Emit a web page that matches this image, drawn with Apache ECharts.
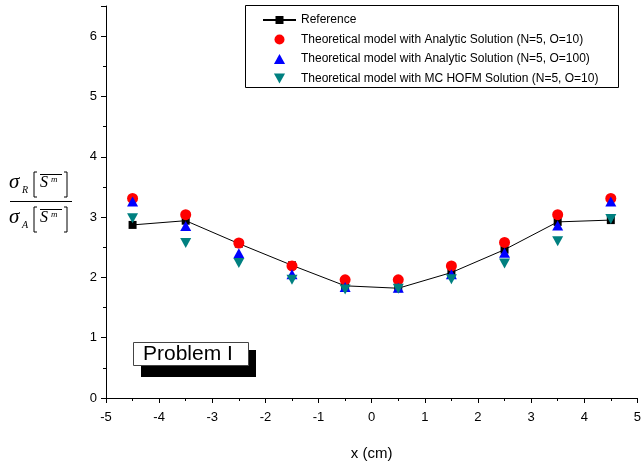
<!DOCTYPE html>
<html>
<head>
<meta charset="utf-8">
<script src="https://cdn.jsdelivr.net/npm/echarts@6/dist/echarts.min.js"></script>
<style>html,body{margin:0;padding:0;background:#fff}#c{width:644px;height:466px}</style>
</head>
<body>
<div id="c"></div>
<script>
var xs = [-4.5, -3.5, -2.5, -1.5, -0.5, 0.5, 1.5, 2.5, 3.5, 4.5];
var refVals   = [2.87, 2.94, 2.56, 2.20, 1.86, 1.82, 2.08, 2.46, 2.92, 2.95];
var anaO10    = [3.31, 3.04, 2.57, 2.19, 1.96, 1.96, 2.19, 2.58, 3.04, 3.31];
var anaO100   = [3.26, 2.85, 2.40, 2.05, 1.84, 1.83, 2.05, 2.41, 2.86, 3.26];
var mcO10     = [2.98, 2.57, 2.24, 1.96, 1.80, 1.81, 1.97, 2.23, 2.60, 2.97];
var seriesNames = [
  'Reference',
  'Theoretical model with Analytic Solution (N=5, O=10)',
  'Theoretical model with Analytic Solution (N=5, O=100)',
  'Theoretical model with MC HOFM Solution (N=5, O=10)'
];
function pairs(v){ return xs.map(function(x,i){ return [x, v[i]]; }); }

var FONT = 'Liberation Sans, Arial, sans-serif';
var SERIF = 'Liberation Serif, Times New Roman, serif';
var upTri = 'path://M5,0 L10,9 L0,9 Z';
var invTri = 'path://M0,0 L10,0 L5,9 Z';

var chart = echarts.init(document.getElementById('c'), null, {renderer: 'canvas'});

function fracPart(dy, sub) {
  var els = [];
  els.push({type:'text', left:9, top:172+dy, style:{text:'σ', font:'italic 21px ' + SERIF, fill:'#000'}});
  els.push({type:'text', left:22, top:185+dy, style:{text:sub, font:'italic 10px ' + SERIF, fill:'#000'}});
  els.push({type:'polyline', shape:{points:[[37,172+dy],[34,172+dy],[34,197+dy],[37,197+dy]]}, style:{stroke:'#000', lineWidth:1, fill:null}});
  els.push({type:'polyline', shape:{points:[[64,172+dy],[67,172+dy],[67,197+dy],[64,197+dy]]}, style:{stroke:'#000', lineWidth:1, fill:null}});
  els.push({type:'text', left:40, top:175+dy, style:{text:'S', font:'italic 16px ' + SERIF, fill:'#000'}});
  els.push({type:'text', left:51, top:175+dy, style:{text:'m', font:'italic 9px ' + SERIF, fill:'#000'}});
  els.push({type:'line', shape:{x1:40, y1:174.5+dy, x2:62, y2:174.5+dy}, style:{stroke:'#000', lineWidth:1}});
  return els;
}

var graphics = [];
graphics = graphics.concat(fracPart(0, 'R'));
graphics = graphics.concat(fracPart(35, 'A'));
graphics.push({type:'line', shape:{x1:10, y1:201.5, x2:72, y2:201.5}, style:{stroke:'#000', lineWidth:1}});
// legend frame
graphics.push({type:'rect', shape:{x:245.5, y:5.5, width:373, height:82}, style:{fill:null, stroke:'#000', lineWidth:1}, z:0});
// Problem I box with shadow
graphics.push({type:'rect', shape:{x:141, y:350, width:115, height:27}, style:{fill:'#000'}, z:10});
graphics.push({type:'rect', shape:{x:133.5, y:342.5, width:115, height:23}, style:{fill:'#fff', stroke:'#444', lineWidth:1}, z:11});
graphics.push({type:'text', left:143, top:344, style:{text:'Problem I', font:'21px ' + FONT, fill:'#000'}, z:12});

var option = {
  animation: false,
  backgroundColor: '#fff',
  grid: {left: 106, right: 3, top: 6, bottom: 62, containLabel: false},
  legend: {
    orient: 'vertical',
    left: 262, top: 14,
    padding: 0,
    itemWidth: 33, itemHeight: 10, itemGap: 7.5,
    textStyle: {fontFamily: FONT, fontSize: 12, color: '#000', padding: [0,0,0,0]},
    data: [
      {name: seriesNames[0]},
      {name: seriesNames[1], icon: 'circle'},
      {name: seriesNames[2], icon: upTri},
      {name: seriesNames[3], icon: invTri}
    ]
  },
  xAxis: {
    type: 'value', min: -5, max: 5, interval: 1,
    name: 'x (cm)', nameLocation: 'middle', nameGap: 48,
    nameTextStyle: {fontFamily: FONT, fontSize: 15, color: '#000'},
    axisLine: {show: true, onZero: false, lineStyle: {color: '#000', width: 1}},
    axisTick: {show: true, inside: false, length: 5, lineStyle: {color: '#000'}},
    minorTick: {show: true, splitNumber: 2, length: 3, lineStyle: {color: '#000'}},
    splitLine: {show: false},
    axisLabel: {fontFamily: FONT, fontSize: 13, color: '#000', margin: 13}
  },
  yAxis: {
    type: 'value', min: 0, max: 6.5, interval: 1,
    axisLine: {show: true, onZero: false, lineStyle: {color: '#000', width: 1}},
    axisTick: {show: true, inside: false, length: 5, lineStyle: {color: '#000'}},
    minorTick: {show: true, splitNumber: 2, length: 3, lineStyle: {color: '#000'}},
    splitLine: {show: false},
    axisLabel: {fontFamily: FONT, fontSize: 13, color: '#000', margin: 9, showMaxLabel: false}
  },
  graphic: graphics,
  series: [
    {name: seriesNames[0], type: 'line', data: pairs(refVals), symbol: 'rect', symbolSize: 8,
     lineStyle: {color: '#000', width: 1}, itemStyle: {color: '#000'}, z: 2},
    {name: seriesNames[1], type: 'scatter', data: pairs(anaO10), symbol: 'circle', symbolSize: 11,
     itemStyle: {color: '#ff0000', opacity: 1}, z: 3},
    {name: seriesNames[2], type: 'scatter', data: pairs(anaO100), symbol: upTri, symbolSize: [11, 10],
     itemStyle: {color: '#0000ff', opacity: 1}, z: 4},
    {name: seriesNames[3], type: 'scatter', data: pairs(mcO10), symbol: invTri, symbolSize: [11, 10],
     itemStyle: {color: '#008080', opacity: 1}, z: 5}
  ]
};
chart.setOption(option);
</script>
</body>
</html>
